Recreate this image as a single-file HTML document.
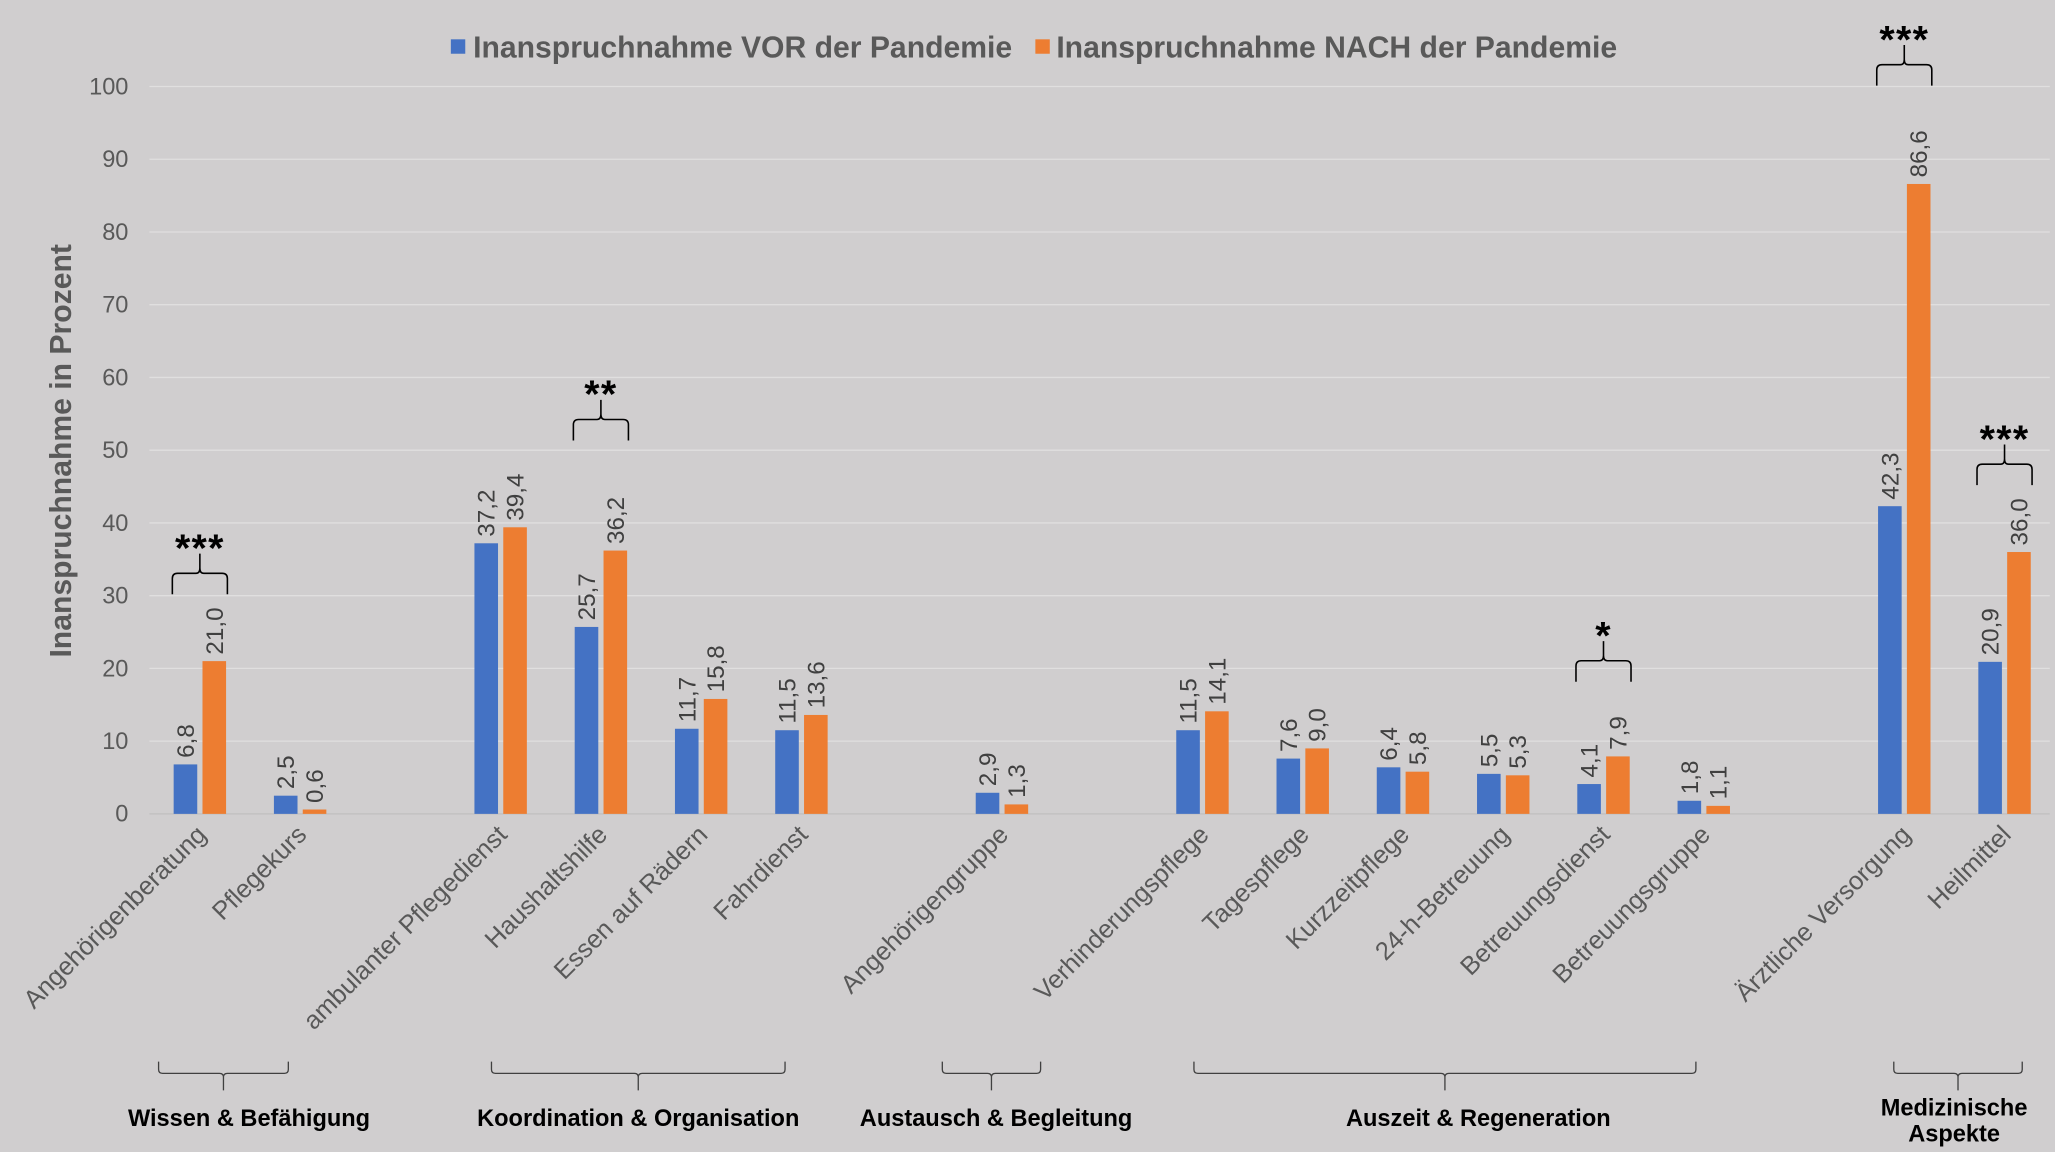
<!DOCTYPE html>
<html><head><meta charset="utf-8"><style>
html,body{margin:0;padding:0;background:#d0cecf;}
svg{display:block;font-family:"Liberation Sans",Arial,sans-serif;}
</style></head><body>
<svg id="chart" width="2055" height="1152" viewBox="0 0 1568 879" xmlns="http://www.w3.org/2000/svg">
<rect x="0" y="0" width="1568" height="879" fill="#d0cecf"/>
<g id="grid"></g><g id="bars"></g><g id="labels"></g><g id="annot"></g>
<g>
<rect x="344" y="30" width="11" height="11" fill="#4472c4"/>
<text x="361" y="44" font-size="23" font-weight="bold" fill="#595959">Inanspruchnahme VOR der Pandemie</text>
<rect x="790" y="30" width="11" height="11" fill="#ed7d31"/>
<text x="806" y="44" font-size="23" font-weight="bold" fill="#595959">Inanspruchnahme NACH der Pandemie</text>
</g>
<text transform="translate(54,344) rotate(-90)" text-anchor="middle" font-size="23" font-weight="bold" fill="#595959">Inanspruchnahme in Prozent</text>
</svg>
<script>
const categories=["Angehörigenberatung","Pflegekurs","","ambulanter Pflegedienst","Haushaltshilfe","Essen auf Rädern","Fahrdienst","","Angehörigengruppe","","Verhinderungspflege","Tagespflege","Kurzzeitpflege","24-h-Betreuung","Betreuungsdienst","Betreuungsgruppe","","Ärztliche Versorgung","Heilmittel"];
const vorValues=[6.8,2.5,null,37.2,25.7,11.7,11.5,null,2.9,null,11.5,7.6,6.4,5.5,4.1,1.8,null,42.3,20.9];
const nachValues=[21.0,0.6,null,39.4,36.2,15.8,13.6,null,1.3,null,14.1,9.0,5.8,5.3,7.9,1.1,null,86.6,36.0];
const yTicks=[0,10,20,30,40,50,60,70,80,90,100];
const significance=[["Angehörigenberatung","***"],["Haushaltshilfe","**"],["Betreuungsdienst","*"],["Ärztliche Versorgung","***"],["Heilmittel","***"]];
// layout: gap in px between tallest bar and brace bottom
const sigGap=[51,84,57,75,51];
const groups=["Wissen & Befähigung","Koordination & Organisation","Austausch & Begleitung","Auszeit & Regeneration","Medizinische|Aspekte"];
// layout (pixel) for group brackets: left, right, label x
const groupLayout=[[121,220,190],[375,599,487],[719,794,760],[911,1294,1128],[1445,1543,1491]];

const NS="http://www.w3.org/2000/svg";
const X0=114,X1=1564,Y0=621,Y100=66;
const slot=76.5, first=152.5;
const xc=i=>first+slot*i;
const y=v=>Y0-(Y0-Y100)*v/100;
const fmt=v=>v.toFixed(1).replace('.',',');
function el(tag,attrs,parent,txt){const e=document.createElementNS(NS,tag);for(const k in attrs)e.setAttribute(k,attrs[k]);if(txt!==undefined)e.textContent=txt;parent.appendChild(e);return e;}
const grid=document.getElementById('grid'),bars=document.getElementById('bars'),labels=document.getElementById('labels'),annot=document.getElementById('annot');
yTicks.forEach(t=>{
 const l=el('line',{x1:X0,x2:X1,y1:y(t),y2:y(t),stroke:t===0?'#bfbfbf':'#e0dfdf','stroke-width':1},grid);
 
 
 const tx=el('text',{x:98,y:y(t)+6,'text-anchor':'end','font-size':18,fill:'#595959'},grid,String(t));
 
 
});
const BW=18,GAP=4;
categories.forEach((c,i)=>{
 if(!c)return;
 const cx=xc(i);
 [[vorValues[i],cx-GAP/2-BW,'#4472c4','vor'],[nachValues[i],cx+GAP/2,'#ed7d31','nach']].forEach(([v,bx,col,s])=>{
  if(v==null)return;
  const r=el('rect',{x:bx,y:y(v),width:BW,height:Y0-y(v),fill:col},bars);
  
  
  const t=el('text',{transform:`translate(${bx+BW/2+6.5},${y(v)-5}) rotate(-90)`,'font-size':18.5,fill:'#404040'},labels,fmt(v));
  
  
 });
 const ct=el('text',{transform:`translate(${cx+6},${638}) rotate(-45)`,'text-anchor':'end','font-size':19.5,fill:'#595959'},labels,c);
 
 
});
significance.forEach(([c,stars],k)=>{
 const i=categories.indexOf(c);const cx=xc(i);
 const top=Math.max(vorValues[i],nachValues[i]);
 const yb=y(top)-sigGap[k],left=cx-GAP/2-BW-1,right=cx+GAP/2+BW+1,ym=yb-16,yt=yb-31;
 const p=el('path',{d:`M${left},${yb} L${left},${ym+4} Q${left},${ym} ${left+4},${ym} L${cx-3},${ym} Q${cx},${ym} ${cx},${ym-4} L${cx},${yt} M${cx},${ym-4} Q${cx},${ym} ${cx+3},${ym} L${right-4},${ym} Q${right},${ym} ${right},${ym+4} L${right},${yb}`,fill:'none',stroke:'#000','stroke-width':1.2},annot);
 
 
 const t=el('text',{x:cx,y:yt+6,'text-anchor':'middle','font-size':30,'font-weight':'bold','letter-spacing':1,fill:'#000'},annot,stars);
 
 
});
groups.forEach((name,k)=>{
 const [l,r,lx]=groupLayout[k];const m=(l+r)/2;
 const p=el('path',{d:`M${l},810 L${l},816 Q${l},819 ${l+3},819 L${m-3},819 Q${m},819 ${m},822 L${m},832 M${m},822 Q${m},819 ${m+3},819 L${r-3},819 Q${r},819 ${r},816 L${r},810`,fill:'none',stroke:'#404040','stroke-width':1},annot);
 
 
 const parts=name.split('|');
 parts.forEach((s,j)=>{
  const t=el('text',{x:lx,y:(parts.length>1?851:859)+j*20,'text-anchor':'middle','font-size':18,'font-weight':'bold',fill:'#000'},annot,s);
  
  
 });
});
</script>
</body></html>
